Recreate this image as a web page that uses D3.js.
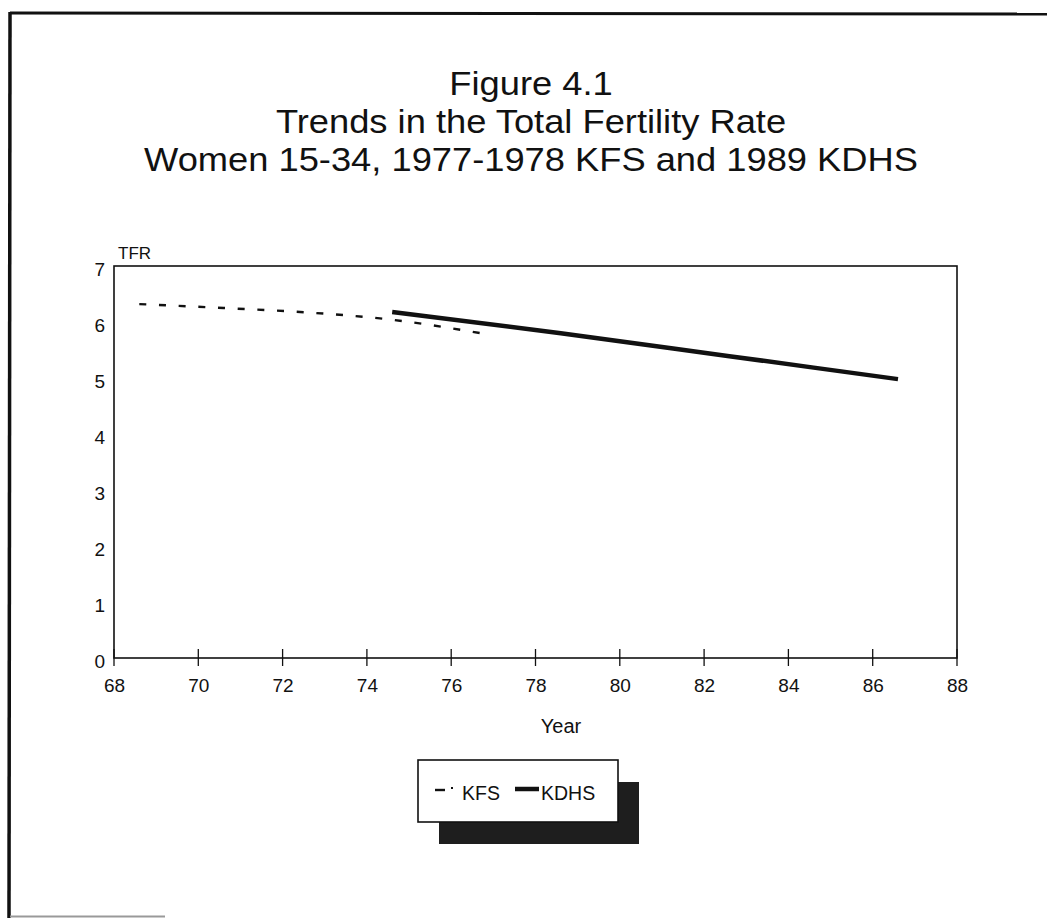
<!DOCTYPE html>
<html>
<head>
<meta charset="utf-8">
<script src="https://cdn.jsdelivr.net/npm/d3@7"></script>
<style>
  html, body { margin: 0; padding: 0; background: #fff; }
  svg { display: block; }
  text { font-family: "Liberation Sans", Arial, Helvetica, sans-serif; fill: #111; }
</style>
</head>
<body>
<svg id="chart" width="1047" height="918"></svg>
<script>
// ---- data ----
const titleLines = ["Figure 4.1", "Trends in the Total Fertility Rate", "Women 15-34, 1977-1978 KFS and 1989 KDHS"];
const xTicks = [68, 70, 72, 74, 76, 78, 80, 82, 84, 86, 88];
const yTicks = [0, 1, 2, 3, 4, 5, 6, 7];
const kfsYears = [68.6, 70.6, 72.6, 74.6, 76.7];
const kfsTFR   = [6.32, 6.25, 6.17, 6.04, 5.80];
const kdhsYears = [74.6, 78.6, 82.6, 86.6];
const kdhsTFR   = [6.18, 5.80, 5.39, 4.98];
const seriesNames = ["KFS", "KDHS"];

const svg = d3.select("#chart");

// page frame (scanned document border)
svg.append("line").attr("x1", 10).attr("y1", 13).attr("x2", 1047).attr("y2", 14)
  .attr("stroke", "#111").attr("stroke-width", 3);
svg.append("line").attr("x1", 10).attr("y1", 12).attr("x2", 9).attr("y2", 918)
  .attr("stroke", "#111").attr("stroke-width", 3.5);
svg.append("line").attr("x1", 10).attr("y1", 916.5).attr("x2", 165).attr("y2", 916.5)
  .attr("stroke", "#999").attr("stroke-width", 2);

// title
const tg = svg.append("g").attr("transform", "translate(531,0) scale(1.1,1)");
const baselines = [95, 133, 171];
titleLines.forEach((t, i) => {
  tg.append("text").attr("x", 0).attr("y", baselines[i])
    .attr("text-anchor", "middle").attr("font-size", 33).text(t);
});

// scales
const x = d3.scaleLinear().domain([68, 88]).range([114, 957]);
const y = d3.scaleLinear().domain([0, 7]).range([658, 266]);

// plot frame
svg.append("rect").attr("x", x(68)).attr("y", y(7))
  .attr("width", x(88) - x(68)).attr("height", y(0) - y(7))
  .attr("fill", "none").attr("stroke", "#111").attr("stroke-width", 1.6);

// x axis
const xAxis = d3.axisBottom(x).tickValues(xTicks).tickSize(0).tickPadding(21)
  .tickFormat(d3.format("d"));
const gx = svg.append("g").attr("transform", `translate(0,${y(0)})`).call(xAxis);
gx.select(".domain").remove();
gx.selectAll("text").attr("font-size", 19).attr("fill", "#111")
  .attr("font-family", "Liberation Sans, Arial, sans-serif");
// crossing tick marks
svg.append("g").selectAll("line").data(xTicks).join("line")
  .attr("x1", d => x(d)).attr("x2", d => x(d))
  .attr("y1", y(0) - 9).attr("y2", y(0) + 8)
  .attr("stroke", "#111").attr("stroke-width", 1.3);

// y axis
const yAxis = d3.axisLeft(y).tickValues(yTicks).tickSize(0).tickPadding(9)
  .tickFormat(d3.format("d"));
const gy = svg.append("g").attr("transform", `translate(${x(68)},3)`).call(yAxis);
gy.select(".domain").remove();
gy.selectAll("text").attr("font-size", 19).attr("fill", "#111")
  .attr("font-family", "Liberation Sans, Arial, sans-serif");

// axis titles
svg.append("text").attr("x", 118).attr("y", 259).attr("font-size", 17).text("TFR");
svg.append("text").attr("x", 561).attr("y", 733).attr("text-anchor", "middle")
  .attr("font-size", 20).text("Year");

// lines
const line = d3.line().x(d => x(d[0])).y(d => y(d[1])).curve(d3.curveMonotoneX);
const kfs = kfsYears.map((v, i) => [v, kfsTFR[i]]);
const kdhs = kdhsYears.map((v, i) => [v, kdhsTFR[i]]);

svg.append("path").datum(kfs).attr("d", line)
  .attr("fill", "none").attr("stroke", "#111").attr("stroke-width", 2.4)
  .attr("stroke-dasharray", "7,12.7");
svg.append("path").datum(kdhs).attr("d", line)
  .attr("fill", "none").attr("stroke", "#111").attr("stroke-width", 4.5);

// legend
const lg = svg.append("g");
lg.append("rect").attr("x", 439).attr("y", 782).attr("width", 200).attr("height", 62)
  .attr("fill", "#1e1e1e");
lg.append("rect").attr("x", 418).attr("y", 760).attr("width", 200).attr("height", 62)
  .attr("fill", "#fff").attr("stroke", "#111").attr("stroke-width", 1.6);
// KFS sample
lg.append("line").attr("x1", 435).attr("x2", 445).attr("y1", 790).attr("y2", 790)
  .attr("stroke", "#111").attr("stroke-width", 2.4);
lg.append("line").attr("x1", 451).attr("x2", 453).attr("y1", 788).attr("y2", 788)
  .attr("stroke", "#111").attr("stroke-width", 2);
lg.append("text").attr("x", 462).attr("y", 800).attr("font-size", 19.5).text(seriesNames[0]);
// KDHS sample
lg.append("line").attr("x1", 515).attr("x2", 539).attr("y1", 789).attr("y2", 789)
  .attr("stroke", "#111").attr("stroke-width", 4.5);
lg.append("text").attr("x", 541).attr("y", 800).attr("font-size", 19.5).text(seriesNames[1]);
</script>
</body>
</html>
